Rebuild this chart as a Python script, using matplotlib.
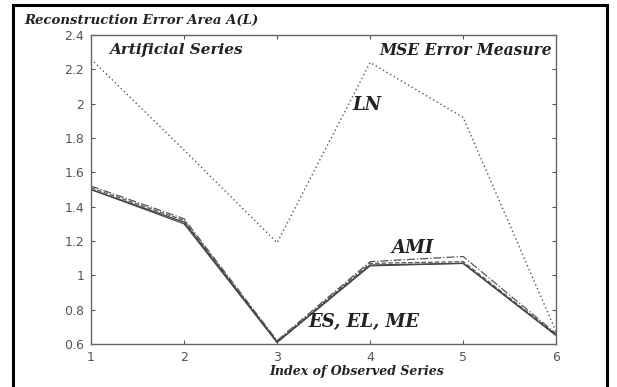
import matplotlib.pyplot as plt
from matplotlib.patches import Rectangle

# =============================
# Data
# =============================
series_index = [1, 2, 3, 4, 5, 6]
ln_err = [2.26, 1.73, 1.19, 2.24, 1.92, 0.67]
ami_err = [1.52, 1.33, 0.62, 1.08, 1.11, 0.66]
es_err = [1.50, 1.31, 0.61, 1.06, 1.07, 0.65]
el_err = [1.51, 1.32, 0.615, 1.07, 1.08, 0.655]
me_err = [1.50, 1.30, 0.61, 1.055, 1.07, 0.65]

yticks = [0.6, 0.8, 1, 1.2, 1.4, 1.6, 1.8, 2, 2.2, 2.4]
ytick_labels = ["0.6", "0.8", "1", "1.2", "1.4", "1.6", "1.8", "2", "2.2", "2.4"]

serif = {"family": "DejaVu Serif", "weight": "bold", "style": "italic", "color": "#222222"}

fig = plt.figure(figsize=(6.17, 3.87), dpi=100)
ax = fig.add_axes([0.1475, 0.111, 0.754, 0.7985])

ax.plot(series_index, ln_err, color="#555555", linestyle=(0, (1, 2)), linewidth=1.0)
ax.plot(series_index, ami_err, color="#555555", linestyle="-.", linewidth=0.9)
ax.plot(series_index, el_err, color="#555555", linestyle="--", linewidth=0.9)
ax.plot(series_index, es_err, color="#444444", linestyle="-", linewidth=1.0)
ax.plot(series_index, me_err, color="#444444", linestyle="-", linewidth=0.8)

ax.set_xlim(1, 6)
ax.set_ylim(0.6, 2.4)
ax.set_xticks(series_index)
ax.set_yticks(yticks)
ax.set_yticklabels(ytick_labels)
ax.tick_params(direction="in", length=3, width=0.8, top=True, right=True,
               labelsize=9, colors="#555555", labelcolor="#555555", pad=5)
for s in ax.spines.values():
    s.set_color("#666666")
    s.set_linewidth(1.0)

# annotations inside the axes
ax.text(1.2, 2.31, "Artificial Series", fontsize=11, ha="left", va="center", **serif)
ax.text(5.96, 2.31, "MSE Error Measure", fontsize=11.2, ha="right", va="center", **serif)
ax.text(3.81, 1.99, "LN", fontsize=13, ha="left", va="center", **serif)
ax.text(4.46, 1.16, "AMI", fontsize=13, ha="center", va="center", **serif)
ax.text(3.34, 0.73, "ES, EL, ME", fontsize=13, ha="left", va="center", **serif)

# titles outside axes
fig.text(24 / 617, 1 - 20 / 387, "Reconstruction Error Area A(L)", fontsize=9.5,
         ha="left", va="center", **serif)
fig.text(357 / 617, 1 - 371 / 387, "Index of Observed Series", fontsize=9,
         ha="center", va="center", **serif)

# outer black frame
fig.patches.append(Rectangle((13 / 617, -0.05), (607 - 13) / 617, 1 - 5 / 387 + 0.05,
                             transform=fig.transFigure, fill=False,
                             edgecolor="black", linewidth=2.2))

fig.savefig("out.png", dpi=100)
